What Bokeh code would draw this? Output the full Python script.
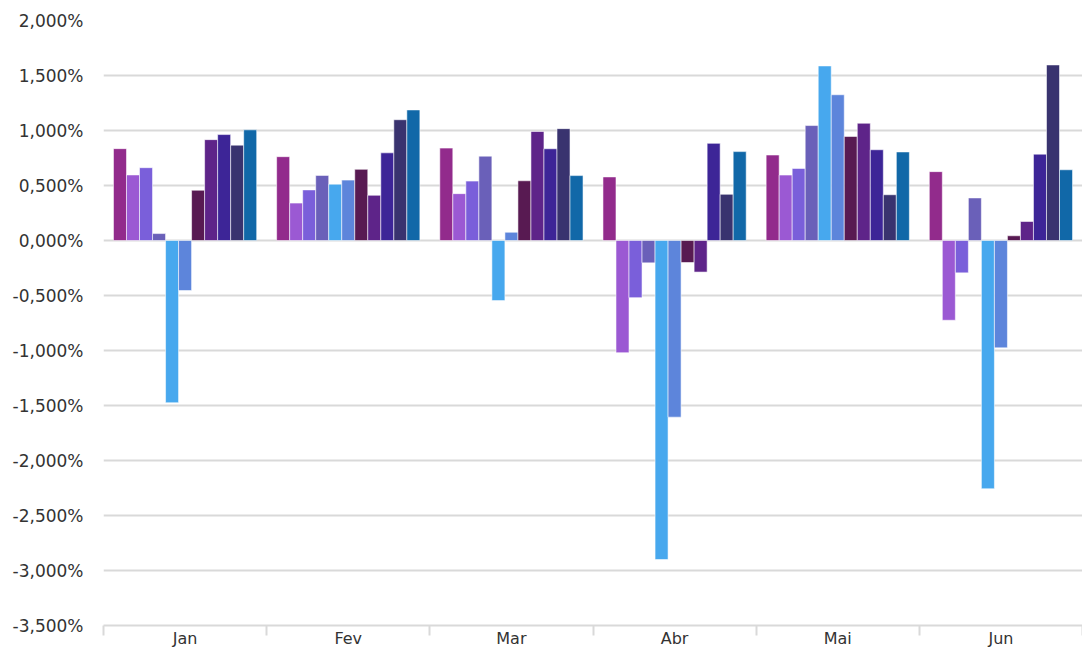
from bokeh.plotting import figure
from bokeh.models import ColumnDataSource, Range1d, FixedTicker
from bokeh.transform import dodge
from bokeh.embed import file_html
from bokeh.resources import INLINE

categories = ["Jan", "Fev", "Mar", "Abr", "Mai", "Jun"]

s01 = [0.835, 0.762, 0.840, 0.578, 0.777, 0.626]
s02 = [0.596, 0.340, 0.426, -1.020, 0.595, -0.725]
s03 = [0.662, 0.460, 0.540, -0.520, 0.655, -0.294]
s04 = [0.063, 0.592, 0.767, -0.203, 1.045, 0.387]
s05 = [-1.475, 0.512, -0.546, -2.900, 1.587, -2.257]
s06 = [-0.455, 0.549, 0.075, -1.606, 1.325, -0.976]
s07 = [0.457, 0.647, 0.543, -0.200, 0.946, 0.043]
s08 = [0.917, 0.411, 0.991, -0.287, 1.066, 0.173]
s09 = [0.963, 0.797, 0.834, 0.883, 0.825, 0.785]
s10 = [0.867, 1.098, 1.017, 0.420, 0.416, 1.596]
s11 = [1.006, 1.187, 0.590, 0.808, 0.805, 0.643]

series = [s01, s02, s03, s04, s05, s06, s07, s08, s09, s10, s11]
colors = ["#922B8C", "#9B59D3", "#7A5FDA", "#6A60B9", "#47A8EE", "#5D85DB",
          "#581A52", "#5E2489", "#3D2597", "#39336F", "#1168A8"]

y_ticks = [-3.5, -3.0, -2.5, -2.0, -1.5, -1.0, -0.5, 0.0, 0.5, 1.0, 1.5, 2.0]
y_labels = ["-3,500%", "-3,000%", "-2,500%", "-2,000%", "-1,500%", "-1,000%",
            "-0,500%", "0,000%", "0,500%", "1,000%", "1,500%", "2,000%"]

n_cat = len(categories)
centers = [i + 0.5 for i in range(n_cat)]
bounds = [float(i) for i in range(n_cat + 1)]

data = {"pos": centers}
for k, s in enumerate(series):
    data[f"s{k}"] = s
src = ColumnDataSource(data)

p = figure(width=1082, height=650, output_backend="svg", toolbar_location=None,
           x_range=Range1d(0, n_cat), y_range=Range1d(y_ticks[0], y_ticks[-1]),
           min_border_left=103, min_border_right=0, min_border_top=20,
           min_border_bottom=0)

bw = 0.0798
nser = len(series)
for k in range(nser):
    off = (k - (nser - 1) / 2) * bw
    p.vbar(x=dodge("pos", off, range=p.x_range), top=f"s{k}", bottom=0,
           width=bw, source=src, fill_color=colors[k],
           line_color="white", line_alpha=0.55, line_width=1)

p.outline_line_color = None
p.xgrid.grid_line_color = None
p.ygrid.grid_line_color = "#D9D9D9"
p.ygrid.grid_line_width = 2
p.ygrid.level = "underlay"

p.yaxis.ticker = FixedTicker(ticks=y_ticks)
p.yaxis.major_label_overrides = {t: l for t, l in zip(y_ticks, y_labels)}
p.yaxis.axis_line_color = None
p.yaxis.major_tick_line_color = None
p.yaxis.minor_tick_line_color = None
p.yaxis.major_label_standoff = 14
p.yaxis.major_label_text_font_size = "17px"

p.xaxis.ticker = FixedTicker(ticks=centers, minor_ticks=bounds)
p.xaxis.major_label_overrides = {c: l for c, l in zip(centers, categories)}
p.xaxis.axis_line_color = "#D9D9D9"
p.xaxis.axis_line_width = 2
p.xaxis.major_tick_line_color = None
p.xaxis.major_tick_out = 10
p.xaxis.minor_tick_line_color = "#D9D9D9"
p.xaxis.minor_tick_line_width = 2
p.xaxis.minor_tick_out = 10
p.xaxis.minor_tick_in = 0
p.xaxis.major_label_standoff = -7
p.xaxis.major_label_text_font_size = "16px"

for ax in (p.xaxis, p.yaxis):
    ax.major_label_text_font = "DejaVu Sans"
    ax.major_label_text_color = "#333333"

open("out.html", "w").write(file_html(p, INLINE))
